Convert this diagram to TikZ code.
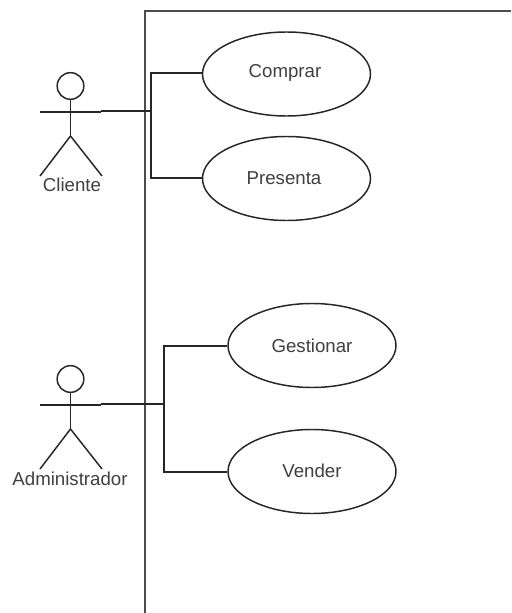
\documentclass[tikz,border=0pt]{standalone}
\usepackage{fontspec}
\setmainfont{Liberation Sans}
\usetikzlibrary{shapes.geometric}
\tikzset{
 uc/.style={draw=black!85,line width=1.1pt,ellipse,minimum width=126pt,minimum height=63pt,inner sep=0pt,font=\fontsize{14}{16}\selectfont,text=black!75},
 lnk/.style={draw=black!85,line width=1.1pt},
 lab/.style={inner sep=0pt,font=\fontsize{14}{16}\selectfont,text=black!75},
 limb/.style={draw=black!85,line width=1.1pt},
 headc/.style={draw=black!85,line width=1.1pt,circle,minimum size=20pt,inner sep=0pt}
}
\begin{document}
\begin{tikzpicture}[x=0.75pt,y=-0.75pt]
\useasboundingbox (0,0) rectangle (511,613);
\fill[white] (0,0) rectangle (511,613);
\draw[draw=black!70,line width=1.5pt] (144.5,613) -- (144.5,11) -- (511,11);
\node[uc] (a) at (286.5,74) {};
\node[lab] (ta) at (285,73) {Comprar};
\node[uc] (b) at (286.5,178.5) {};
\node[lab] (tb) at (284,178) {Presenta};
\node[uc] (c) at (312,345.5) {};
\node[lab] (tc) at (312,346) {Gestionar};
\node[uc] (d) at (312,471.5) {};
\node[lab] (td) at (312,471) {Vender};
% actor 1
\node[headc] (h1) at (70.5,86) {};
\coordinate (w1) at (70.5,136);
\coordinate (arm1) at (40,112);
\coordinate (arm1b) at (101,112);
\coordinate (hand1) at (101,111);
\coordinate (f1a) at (40,176);
\coordinate (f1b) at (102,176);
\draw[limb] (h1.south) -- (w1);
\draw[limb] (arm1) -- (arm1b);
\draw[limb] (w1) -- (f1a);
\draw[limb] (w1) -- (f1b);
\node[lab] (l1) at (72,185) {Cliente};
% actor 2
\node[headc] (h2) at (70.5,379) {};
\coordinate (w2) at (70.5,429);
\coordinate (arm2) at (40,405);
\coordinate (arm2b) at (101,405);
\coordinate (hand2) at (101,404);
\coordinate (f2a) at (40,469);
\coordinate (f2b) at (102,469);
\draw[limb] (h2.south) -- (w2);
\draw[limb] (arm2) -- (arm2b);
\draw[limb] (w2) -- (f2a);
\draw[limb] (w2) -- (f2b);
\node[lab] (l2) at (70,479) {Administrador};
% connectors
\draw[lnk] (hand1) -- (151,111) -- (151,73) -- (a.west |- 0,73);
\draw[lnk] (hand1) -- (151,111) -- (151,178) -- (b.west |- 0,178);
\draw[lnk] (hand2) -- (164,404) -- (164,346) -- (c.west |- 0,346);
\draw[lnk] (hand2) -- (164,404) -- (164,472) -- (d.west |- 0,472);
\end{tikzpicture}
\end{document}
